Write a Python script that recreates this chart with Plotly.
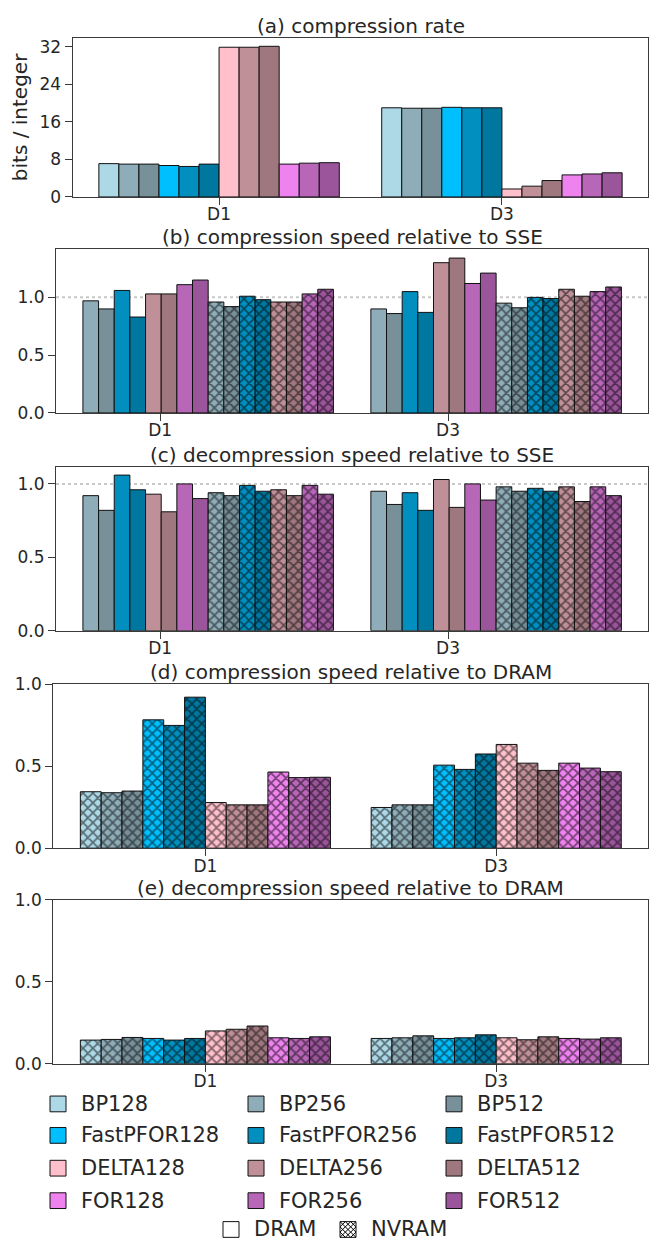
import plotly.graph_objects as go

# ---------------- data ----------------
datasets = ["D1", "D3"]
methods = ["BP128", "BP256", "BP512",
           "FastPFOR128", "FastPFOR256", "FastPFOR512",
           "DELTA128", "DELTA256", "DELTA512",
           "FOR128", "FOR256", "FOR512"]
sse_methods = ["BP256", "BP512", "FastPFOR256", "FastPFOR512",
               "DELTA256", "DELTA512", "FOR256", "FOR512"]

# (a) compression rate, bits / integer
rate_D1 = [7.1, 7.0, 7.0, 6.7, 6.5, 7.0, 31.9, 31.9, 32.1, 7.0, 7.2, 7.3]
rate_D3 = [19.0, 18.9, 18.9, 19.1, 19.0, 19.0, 1.7, 2.3, 3.5, 4.7, 4.9, 5.15]

# (b) compression speed relative to SSE
comp_sse_dram_D1 = [0.97, 0.90, 1.06, 0.83, 1.03, 1.03, 1.11, 1.15]
comp_sse_nvram_D1 = [0.96, 0.92, 1.01, 0.98, 0.96, 0.96, 1.03, 1.07]
comp_sse_dram_D3 = [0.90, 0.86, 1.05, 0.87, 1.30, 1.34, 1.12, 1.21]
comp_sse_nvram_D3 = [0.95, 0.91, 1.00, 0.99, 1.07, 1.01, 1.05, 1.09]

# (c) decompression speed relative to SSE
dec_sse_dram_D1 = [0.92, 0.82, 1.06, 0.96, 0.93, 0.81, 1.00, 0.90]
dec_sse_nvram_D1 = [0.94, 0.92, 0.99, 0.95, 0.96, 0.92, 0.99, 0.93]
dec_sse_dram_D3 = [0.95, 0.86, 0.94, 0.82, 1.03, 0.84, 1.00, 0.89]
dec_sse_nvram_D3 = [0.98, 0.95, 0.97, 0.95, 0.98, 0.88, 0.98, 0.92]

# (d) compression speed relative to DRAM (NVRAM runs)
comp_dram_D1 = [0.344, 0.338, 0.348, 0.782, 0.748, 0.920, 0.278, 0.264, 0.264, 0.464, 0.430, 0.432]
comp_dram_D3 = [0.248, 0.264, 0.264, 0.506, 0.480, 0.574, 0.632, 0.518, 0.474, 0.518, 0.488, 0.466]

# (e) decompression speed relative to DRAM (NVRAM runs)
dec_dram_D1 = [0.144, 0.148, 0.160, 0.154, 0.144, 0.154, 0.200, 0.210, 0.230, 0.158, 0.154, 0.164]
dec_dram_D3 = [0.154, 0.158, 0.170, 0.154, 0.158, 0.176, 0.158, 0.146, 0.164, 0.154, 0.150, 0.158]

# ---------------- style ----------------
colors = {
    "BP128": "#ADD8E6", "BP256": "#8FADB8", "BP512": "#77909A",
    "FastPFOR128": "#00BFFF", "FastPFOR256": "#008FBF", "FastPFOR512": "#00779F",
    "DELTA128": "#FFC0CB", "DELTA256": "#BF9098", "DELTA512": "#9F787F",
    "FOR128": "#EE82EE", "FOR256": "#B866B8", "FOR512": "#9B559B",
}
W, H = 652, 1251
FONT = "DejaVu Sans"
TXT = "#262626"
AXC = "#3a3a3a"
EDGE = "#111111"


def fx(px):
    return px / W


def fy(py):
    return 1 - py / H


fig = go.Figure()
xs = list(range(len(datasets)))


def add_bars(axn, names, vals_d1, vals_d3, group, hatched_flags):
    n = len(names)
    w = group / n
    for i, (name, v1, v3, hat) in enumerate(zip(names, vals_d1, vals_d3, hatched_flags)):
        marker = dict(color=colors[name], line=dict(color=EDGE, width=1))
        if hat:
            marker["pattern"] = dict(shape="x", size=7, solidity=0.42,
                                     fgcolor="black", bgcolor=colors[name],
                                     fillmode="overlay")
        fig.add_trace(go.Bar(
            x=xs, y=[v1, v3], width=w, offset=-group / 2 + i * w,
            marker=marker, name=name + (" NVRAM" if hat else " DRAM"),
            showlegend=False, xaxis="x" + axn, yaxis="y" + axn))


# (a)
add_bars("", methods, rate_D1, rate_D3, 0.85, [False] * 12)
# (b)
add_bars("2", sse_methods + sse_methods, comp_sse_dram_D1 + comp_sse_nvram_D1,
         comp_sse_dram_D3 + comp_sse_nvram_D3, 0.87, [False] * 8 + [True] * 8)
# (c)
add_bars("3", sse_methods + sse_methods, dec_sse_dram_D1 + dec_sse_nvram_D1,
         dec_sse_dram_D3 + dec_sse_nvram_D3, 0.87, [False] * 8 + [True] * 8)
# (d)
add_bars("4", methods, comp_dram_D1, comp_dram_D3, 0.86, [True] * 12)
# (e)
add_bars("5", methods, dec_dram_D1, dec_dram_D3, 0.86, [True] * 12)


def xrange_for(group):
    m = 0.05 * (1 + group)
    return [-group / 2 - m, 1 + group / 2 + m]


panels = [
    # key, x px domain, y px domain, group, yrange, ytick step, xtick offset, fmt
    ("", (72.7, 648.3), (28.3, 190.0), 0.85, [0, 33.9], 8, 0.0, "d"),
    ("2", (56.0, 648.3), (243.3, 409.5), 0.87, [0, 1.415], 0.5, -0.167, ".1f"),
    ("3", (56.0, 648.3), (464.3, 630.8), 0.87, [0, 1.116], 0.5, -0.167, ".1f"),
    ("4", (53.3, 648.3), (685.0, 851.8), 0.86, [0, 1.0], 0.5, 0.0, ".1f"),
    ("5", (53.3, 648.3), (904.3, 1070.8), 0.86, [0, 1.0], 0.5, 0.0, ".1f"),
]

axis_common = dict(showline=True, mirror=True, linecolor=AXC, linewidth=1.2,
                   ticks="outside", ticklen=7, tickwidth=1.2, tickcolor=AXC,
                   showgrid=False, zeroline=False,
                   tickfont=dict(family=FONT, size=17, color=TXT))

layout_axes = {}
for key, (xl, xr), (yt, yb), group, yr, ystep, toff, yfmt in panels:
    layout_axes["xaxis" + key] = dict(
        domain=[fx(xl), fx(xr)], range=xrange_for(group),
        tickvals=[x + toff for x in xs], ticktext=datasets,
        ticklabelstandoff=-5,
        anchor="y" + key, **axis_common)
    layout_axes["yaxis" + key] = dict(
        domain=[fy(yb), fy(yt)], range=yr, dtick=ystep, tick0=0,
        tickformat=yfmt, anchor="x" + key, **axis_common)

layout_axes["yaxis"]["title"] = dict(text="bits / integer",
                                     font=dict(family=FONT, size=20, color=TXT),
                                     standoff=6)

fig.update_layout(
    width=W, height=H, margin=dict(l=0, r=0, t=0, b=0),
    paper_bgcolor="white", plot_bgcolor="white",
    barmode="overlay", font=dict(family=FONT, color=TXT),
    **layout_axes)

# reference lines at 1.0 in (b) and (c)
for key in ("2", "3"):
    fig.add_shape(type="line", xref="x" + key + " domain", yref="y" + key,
                  x0=0, x1=1, y0=1, y1=1, layer="below",
                  line=dict(color="#c8c8c8", width=2, dash="dot"))

# panel titles
titles = [
    ("(a) compression rate", (72.7, 648.3), 15.8),
    ("(b) compression speed relative to SSE", (56.0, 648.3), 231.0),
    ("(c) decompression speed relative to SSE", (56.0, 648.3), 452.5),
    ("(d) compression speed relative to DRAM", (53.3, 648.3), 672.5),
    ("(e) decompression speed relative to DRAM", (53.3, 648.3), 892.5),
]
for text, (xl, xr), yc in titles:
    fig.add_annotation(text=text, xref="paper", yref="paper",
                       x=fx((xl + xr) / 2), y=fy(yc), xanchor="center", yanchor="middle",
                       showarrow=False, font=dict(family=FONT, size=20, color=TXT))

# legend (drawn)
leg_cols = [(50, 79), (248, 277), (446, 475)]
leg_rows = [1111.7, 1143.7, 1177.0, 1210.0]
SQ = 16
for idx, name in enumerate(methods):
    r, c = divmod(idx, 3)
    sx, tx = leg_cols[c]
    yc = leg_rows[r]
    fig.add_shape(type="rect", xref="paper", yref="paper",
                  x0=fx(sx), x1=fx(sx + SQ), y0=fy(yc - SQ / 2), y1=fy(yc + SQ / 2),
                  fillcolor=colors[name], line=dict(color=EDGE, width=1))
    fig.add_annotation(text=name, xref="paper", yref="paper",
                       x=fx(tx), y=fy(yc), xanchor="left", yanchor="middle",
                       showarrow=False, font=dict(family=FONT, size=21, color=TXT))

# DRAM / NVRAM legend
yc = 1239.3
for sx, tx, label, hat in [(223, 252, "DRAM", False), (340, 369, "NVRAM", True)]:
    x0, y0 = sx, yc - SQ / 2
    fig.add_shape(type="rect", xref="paper", yref="paper",
                  x0=fx(x0), x1=fx(x0 + SQ), y0=fy(y0), y1=fy(y0 + SQ),
                  fillcolor="white", line=dict(color=EDGE, width=1))
    if hat:
        step = SQ / 3
        segs = []
        c = -SQ + step
        while c < SQ - 1e-6:
            u0, u1 = max(0, -c), min(SQ, SQ - c)
            segs.append(((u0, u0 + c), (u1, u1 + c)))
            c += step
        c = step
        while c < 2 * SQ - 1e-6:
            u0, u1 = max(0, c - SQ), min(SQ, c)
            segs.append(((u0, c - u0), (u1, c - u1)))
            c += step
        path = " ".join(
            "M {:.5f},{:.5f} L {:.5f},{:.5f}".format(
                fx(x0 + a[0]), fy(y0 + a[1]), fx(x0 + b[0]), fy(y0 + b[1]))
            for a, b in segs)
        fig.add_shape(type="path", xref="paper", yref="paper", path=path,
                      line=dict(color="black", width=1))
    fig.add_annotation(text=label, xref="paper", yref="paper",
                       x=fx(tx), y=fy(yc), xanchor="left", yanchor="middle",
                       showarrow=False, font=dict(family=FONT, size=21, color=TXT))

fig.write_html("out.html")
